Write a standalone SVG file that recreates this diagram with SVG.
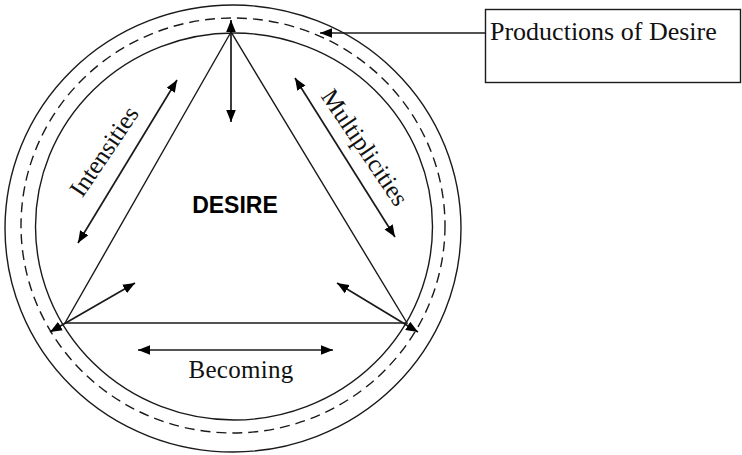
<svg xmlns="http://www.w3.org/2000/svg" width="742" height="455" viewBox="0 0 742 455">
  <defs>
    <marker id="ah" viewBox="0 0 10 8" refX="10" refY="4" markerWidth="12" markerHeight="10" markerUnits="userSpaceOnUse" orient="auto-start-reverse">
      <path d="M0,0 L10,4 L0,8 Z" fill="#000"/>
    </marker>
    <style>
      .ln { stroke: #1a1a1a; stroke-width: 1.4; fill: none; }
      .arr { stroke: #1a1a1a; stroke-width: 1.7; fill: none; marker-start: url(#ah); marker-end: url(#ah); }
      .ser { font-family: "Liberation Serif", "Times New Roman", serif; font-size: 25px; fill: #111; }
      .bold { font-family: "Liberation Sans", Arial, sans-serif; font-weight: bold; font-size: 23px; fill: #000; }
    </style>
  </defs>
  <rect width="742" height="455" fill="#fff"/>

  <g id="circles">
    <ellipse class="ln" cx="233" cy="228.5" rx="228" ry="223.5"/>
    <ellipse class="ln" cx="233" cy="225.5" rx="212" ry="207.5" stroke-dasharray="10 6"/>
    <ellipse class="ln" cx="234" cy="226.5" rx="198.5" ry="193.5"/>
  </g>

  <g id="triangle">
    <path class="ln" d="M231,32 L65,323 L407,323 Z" stroke-linejoin="miter"/>
  </g>

  <g id="desire">
    <text class="bold" x="235" y="213" text-anchor="middle">DESIRE</text>
  </g>

  <g id="productions">
    <rect class="ln" x="485.5" y="9.5" width="255" height="73"/>
    <text class="ser" x="490" y="40" style="font-size:26px">Productions of Desire</text>
  </g>

  <g id="intensities">
    <text class="ser" x="111" y="156" text-anchor="middle" transform="rotate(-56 111 156)">Intensities</text>
  </g>

  <g id="multiplicities">
    <text class="ser" x="358" y="152" text-anchor="middle" transform="rotate(56 358 152)">Multiplicities</text>
  </g>

  <g id="becoming">
    <text class="ser" x="241" y="378" text-anchor="middle" letter-spacing="0.3">Becoming</text>
  </g>

  <g id="connectors">
    <line class="arr" x1="231" y1="20" x2="231" y2="122"/>
    <line class="arr" x1="177" y1="80" x2="78" y2="243"/>
    <line class="arr" x1="295" y1="78" x2="395" y2="237"/>
    <line class="arr" x1="138" y1="350" x2="333" y2="350"/>
    <line class="arr" x1="50" y1="332" x2="135" y2="283"/>
    <line class="arr" x1="418" y1="332" x2="337" y2="283"/>
    <line class="ln" x1="485" y1="33" x2="320" y2="33" marker-end="url(#ah)" style="stroke-width:1.5"/>
  </g>
</svg>
